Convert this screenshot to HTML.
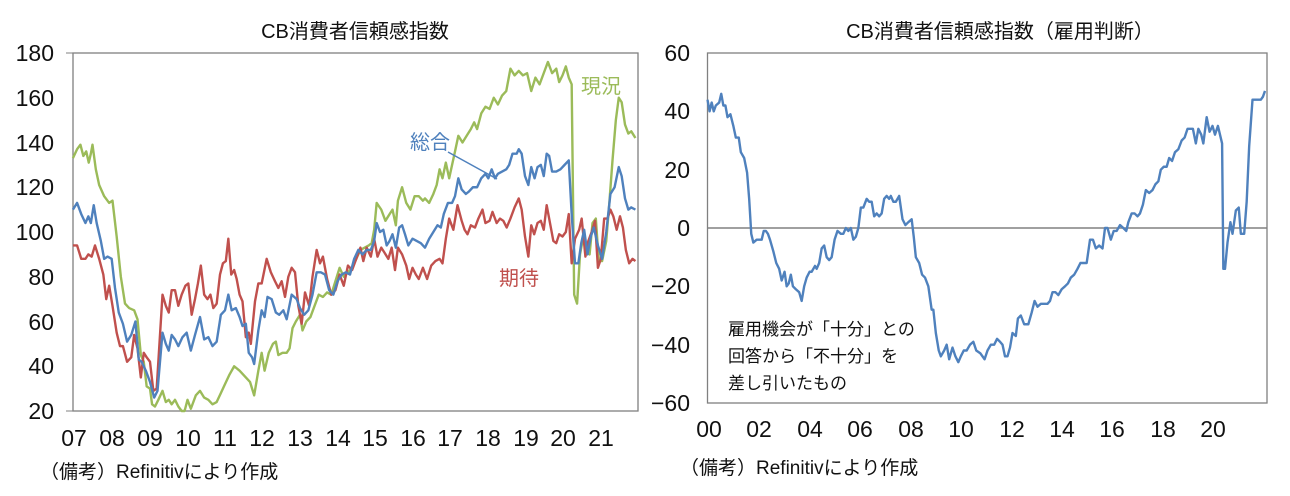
<!DOCTYPE html>
<html><head><meta charset="utf-8"><style>
body{margin:0;background:#fff;}
svg{display:block;font-family:"Liberation Sans","Noto Sans CJK JP",sans-serif;}
.tk{font-family:"Liberation Sans Narrow","Liberation Sans",sans-serif;}
</style></head><body>
<svg width="1290" height="496" viewBox="0 0 1290 496" xmlns="http://www.w3.org/2000/svg">
<rect width="1290" height="496" fill="#fff"/>
<!-- LEFT CHART -->
<text x="355" y="38" font-size="20" text-anchor="middle" fill="#111">CB消費者信頼感指数</text>
<rect x="73" y="53" width="565" height="358" fill="none" stroke="#808080" stroke-width="1.3"/>
<g class="tk" font-size="23" fill="#111" text-anchor="end">
<text x="54" y="61">180</text><text x="54" y="106">160</text><text x="54" y="151">140</text><text x="54" y="195">120</text><text x="54" y="240">100</text><text x="54" y="285">80</text><text x="54" y="330">60</text><text x="54" y="374">40</text><text x="54" y="419">20</text>
</g>
<g stroke="#808080" stroke-width="1"><line x1="66" y1="53" x2="73" y2="53"/><line x1="66" y1="411" x2="73" y2="411"/></g>
<g class="tk" font-size="23" fill="#111" text-anchor="middle">
<text x="74" y="446">07</text><text x="112" y="446">08</text><text x="150" y="446">09</text><text x="188" y="446">10</text><text x="225" y="446">11</text><text x="262" y="446">12</text><text x="300" y="446">13</text><text x="338" y="446">14</text><text x="375" y="446">15</text><text x="413" y="446">16</text><text x="450" y="446">17</text><text x="488" y="446">18</text><text x="526" y="446">19</text><text x="563" y="446">20</text><text x="601" y="446">21</text>
</g>
<g transform="matrix(0.41667,0,0,-2.2375,0,455.75)" fill="none" stroke-width="2.4" stroke-linejoin="round">
<polyline vector-effect="non-scaling-stroke" stroke="#9BBB59" points="175,133 185,137 193,139 200,134 207,136 213,131 218,135 222,139 230,128 238,121 250,116 262,113 270,114 280,98 290,80 300,68 310,66 322,65 330,61 338,45 345,42 352,31 360,30 365,23 372,22 380,25 390,29 398,24 405,25 412,23 420,25 428,22 436,20 443,20 450,25 458,21 470,27 480,29 490,26 500,25 510,23 520,24 530,28 540,32 550,36 562,40 575,38 590,35 600,33 610,27 620,38 628,46 635,38 645,46 655,50 662,51 668,45 678,46 688,46 695,48 702,57 710,60 720,63 726,56 735,60 745,62 755,67 765,72 775,71 785,73 795,72 805,78 815,84 825,80 835,82 845,84 855,88 865,92 875,93 885,94 892,95 898,101 904,113 915,110 925,105 935,108 942,110 950,103 955,114 965,120 975,113 985,110 995,116 1005,116 1015,114 1020,115 1030,113 1040,117 1048,121 1055,128 1062,124 1070,131 1078,124 1085,130 1092,136 1100,143 1110,140 1120,143 1130,146 1138,149 1145,146 1155,153 1165,156 1175,155 1185,160 1195,157 1205,161 1215,163 1225,173 1235,170 1245,172 1255,170 1265,171 1275,163 1285,169 1295,166 1305,171 1315,176 1325,171 1335,173 1342,167 1350,170 1358,174 1365,169 1372,166 1378,72 1385,68 1392,90 1400,98 1408,92 1415,90 1422,104 1430,106 1437,87 1445,87 1455,96 1462,112 1470,132 1478,150 1485,160 1492,158 1500,148 1508,144 1515,145 1525,142"/>
<polyline vector-effect="non-scaling-stroke" stroke="#C0504D" points="175,94 185,94 195,88 205,88 212,90 220,89 228,94 238,88 248,81 255,70 262,76 270,67 280,55 288,49 295,49 305,42 315,44 322,54 330,48 338,35 345,46 352,44 360,42 368,29 376,30 390,72 398,67 405,64 412,74 420,74 428,67 436,72 445,76 452,77 460,63 468,70 475,77 482,85 490,72 498,70 505,72 512,66 520,68 528,81 535,86 542,87 548,97 555,81 562,83 568,79 575,72 582,69 590,53 597,55 602,50 612,69 620,77 628,77 640,88 650,82 660,78 668,75 676,78 684,71 692,80 700,84 708,82 716,67 724,59 732,73 742,67 750,80 760,92 768,86 775,89 785,79 795,72 805,74 815,81 825,76 835,85 845,83 855,88 865,93 872,87 880,93 890,89 898,97 906,89 915,93 922,91 932,88 940,93 948,83 955,93 965,90 975,85 982,79 990,84 998,81 1005,79 1015,84 1025,79 1035,85 1045,87 1055,88 1062,86 1070,97 1078,106 1088,101 1098,112 1108,105 1115,101 1122,99 1130,103 1140,102 1148,106 1158,110 1165,104 1175,105 1182,109 1192,104 1200,106 1208,105 1216,102 1225,106 1235,111 1245,115 1252,110 1260,98 1268,89 1275,103 1282,99 1290,104 1298,105 1305,101 1312,112 1320,104 1328,96 1335,95 1342,99 1350,98 1358,100 1365,108 1372,86 1380,97 1390,101 1396,106 1405,89 1412,96 1420,100 1428,105 1435,84 1442,88 1450,106 1458,106 1465,110 1472,107 1480,101 1488,107 1495,102 1502,92 1510,86 1518,88 1525,87"/>
<polyline vector-effect="non-scaling-stroke" stroke="#4F81BD" points="175,110 185,113 195,108 205,104 212,107 218,104 225,112 232,104 242,96 250,88 258,89 268,88 276,75 285,64 295,59 305,51 315,54 325,60 333,43 340,42 350,38 360,33 370,26 378,29 390,55 398,50 405,47 412,54 420,52 428,49 438,53 448,55 458,47 468,54 480,62 490,52 500,53 510,49 520,51 530,63 540,65 548,72 556,65 566,66 575,62 582,58 590,59 597,46 605,44 610,41 620,56 628,65 635,62 642,71 652,70 662,64 670,63 680,65 688,61 700,72 712,70 720,66 730,63 740,65 750,72 760,82 770,82 780,81 790,74 800,72 810,78 820,81 830,82 840,81 850,88 860,92 870,90 880,92 890,92 898,96 904,104 912,100 920,101 928,94 935,96 942,99 950,93 958,102 965,103 972,99 980,94 990,97 1000,96 1010,95 1020,93 1030,97 1040,100 1050,103 1058,102 1065,108 1075,113 1085,113 1092,116 1100,124 1108,119 1118,117 1125,118 1135,120 1145,120 1155,124 1165,126 1172,124 1180,128 1188,124 1195,126 1205,127 1215,128 1222,130 1230,135 1240,135 1245,137 1252,135 1260,125 1268,121 1275,129 1283,124 1290,129 1298,130 1305,125 1312,135 1318,134 1325,127 1335,127 1345,128 1355,130 1365,132 1372,108 1380,86 1388,86 1395,95 1402,101 1410,90 1418,98 1425,102 1435,94 1445,88 1455,100 1465,117 1475,120 1485,129 1492,125 1500,115 1508,110 1515,111 1525,110"/>
</g>
<line x1="448" y1="152" x2="497" y2="179" stroke="#4F81BD" stroke-width="1.5"/>
<text x="410" y="149" font-size="20" fill="#4F81BD">総合</text>
<text x="499" y="285" font-size="20" fill="#C0504D">期待</text>
<text x="581" y="93" font-size="20" fill="#9BBB59">現況</text>
<text x="40" y="478" font-size="19" fill="#111">（備考）Refinitivにより作成</text>

<!-- RIGHT CHART -->
<text x="1000" y="38" font-size="20" text-anchor="middle" fill="#111">CB消費者信頼感指数（雇用判断）</text>
<rect x="707.5" y="53" width="559.5" height="350" fill="none" stroke="#808080" stroke-width="1.3"/>
<line x1="707.5" y1="228" x2="1267" y2="228" stroke="#808080" stroke-width="1.5"/>
<g class="tk" font-size="23" fill="#111" text-anchor="end">
<text x="690" y="61">60</text><text x="690" y="119">40</text><text x="690" y="178">20</text><text x="690" y="236">0</text><text x="690" y="294">−20</text><text x="690" y="353">−40</text><text x="690" y="411">−60</text>
</g>
<g class="tk" font-size="23" fill="#111" text-anchor="middle">
<text x="709" y="437">00</text><text x="759" y="437">02</text><text x="810" y="437">04</text><text x="860" y="437">06</text><text x="911" y="437">08</text><text x="961" y="437">10</text><text x="1012" y="437">12</text><text x="1062" y="437">14</text><text x="1112" y="437">16</text><text x="1163" y="437">18</text><text x="1213" y="437">20</text>
</g>
<g transform="matrix(0.41667,0,0,-2.9167,645,228)" fill="none" stroke-width="2.4" stroke-linejoin="round">
<polyline vector-effect="non-scaling-stroke" stroke="#4F81BD" points="150,44 155,40 160,43 165,40 170,42 178,43 183,46 188,42 193,42 198,38 205,39 212,35 218,31 225,31 230,26 238,24 245,19 250,10 255,-2 260,-5 268,-4 275,-4 280,-4 285,-1 290,-1 295,-2 300,-4 308,-8 315,-12 322,-14 328,-18 335,-15 340,-20 345,-19 350,-16 355,-20 362,-21 370,-22 376,-25 382,-20 388,-17 395,-15 400,-15 408,-13 412,-14 418,-12 424,-7 430,-6 436,-10 442,-11 448,-10 455,-4 462,-1 470,-2 476,-2 482,0 488,-1 494,0 500,-4 506,-3 512,0 518,7 524,7 532,10 538,9 544,9 550,4 556,5 562,4 568,5 574,10 580,11 586,10 590,11 596,9 602,9 610,11 618,3 625,1 632,2 640,3 645,-3 650,-10 658,-12 665,-16 672,-17 680,-20 688,-28 692,-28 698,-36 705,-42 710,-44 718,-42 724,-40 730,-45 738,-41 745,-44 752,-46 758,-44 765,-42 772,-42 780,-40 788,-39 795,-42 805,-43 815,-45 822,-42 830,-40 838,-40 845,-38 852,-39 858,-40 864,-44 870,-44 876,-41 882,-36 890,-37 895,-31 902,-30 910,-33 920,-33 928,-29 935,-25 942,-27 950,-26 958,-26 966,-26 972,-25 978,-22 985,-22 992,-23 1000,-21 1008,-20 1015,-19 1022,-17 1030,-16 1038,-14 1045,-12 1052,-12 1060,-12 1068,-4 1075,-4 1082,-7 1090,-6 1098,-7 1104,0 1110,0 1118,-4 1125,-1 1132,-1 1140,1 1148,0 1155,-1 1160,2 1168,5 1175,5 1182,4 1188,5 1195,8 1202,13 1210,12 1218,13 1225,15 1232,16 1238,20 1245,21 1252,21 1258,24 1265,23 1272,26 1280,27 1288,30 1295,31 1302,34 1308,34 1315,34 1322,29 1328,34 1335,32 1340,29 1348,38 1355,33 1362,35 1368,32 1375,35 1380,32 1385,29 1388,-14 1392,-14 1398,-5 1405,2 1410,-2 1418,6 1425,7 1430,-2 1438,-2 1444,9 1450,28 1458,44 1465,44 1472,44 1478,44 1483,45 1488,47"/>
</g>
<g font-size="17" fill="#111">
<text x="728" y="335">雇用機会が「十分」との</text>
<text x="728" y="362">回答から「不十分」を</text>
<text x="728" y="389">差し引いたもの</text>
</g>
<text x="680" y="474" font-size="19" fill="#111">（備考）Refinitivにより作成</text>
</svg>
</body></html>
